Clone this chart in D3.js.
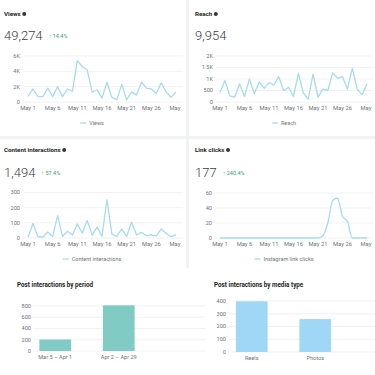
<!DOCTYPE html>
<html>
<head>
<meta charset="utf-8">
<script src="https://cdn.jsdelivr.net/npm/d3@7"></script>
<style>
  html, body { margin: 0; padding: 0; background: #fff; }
  svg { display: block; font-family: Roboto, "Noto Sans", sans-serif; }
</style>
</head>
<body>
<div id="chart"></div>
<script>
// day categories (May 1 .. May 31)
const days = [1, 2, 3, 4, 5, 6, 7, 8, 9, 10, 11, 12, 13, 14, 15, 16, 17, 18, 19, 20,
  21, 22, 23, 24, 25, 26, 27, 28, 29, 30, 31]
const dayTicks = [1, 6, 11, 16, 21, 26, 31]
const dayTickLabels = ['May 1', 'May 6', 'May 11', 'May 16', 'May 21', 'May 26', 'May']

const viewsValues = [740, 1700, 700, 700, 1800, 700, 2000, 700, 1700, 1400,
  5400, 4600, 4200, 1300, 1600, 500, 2600, 600, 300, 2300,
  300, 1300, 900, 2600, 1800, 1700, 1100, 2500, 1300, 600, 1300]
const reachValues = [410, 930, 270, 210, 790, 240, 990, 360, 870, 600,
  840, 740, 1100, 500, 640, 240, 1240, 390, 130, 1210,
  210, 560, 500, 1270, 1030, 1100, 560, 1460, 560, 310, 790]
const interactionValues = [5, 95, 10, 5, 40, 10, 148, 10, 45, 20,
  92, 32, 115, 20, 72, 10, 252, 25, 10, 60,
  10, 105, 20, 37, 15, 20, 12, 60, 30, 8, 22]
const linkClickValues = [0, 0, 0, 0, 0, 0, 0, 0, 0, 0,
  0, 0, 0, 0, 0, 0, 0, 0, 0, 0,
  0, 3, 20, 50, 53, 29, 22, 0, 0, 0, 0]

const periodCategories = ['Mar 5 – Apr 1', 'Apr 2 – Apr 29']
const periodValues = [205, 812]
const mediaCategories = ['Reels', 'Photos']
const mediaValues = [398, 258]

const lineColor = '#a6dbf1'
const gridColor = '#ededed'
const tickColor = '#6f7378'

const svg = d3
  .select('#chart')
  .append('svg')
  .attr('width', 375)
  .attr('height', 375)

// card backgrounds
svg.append('rect').attr('width', 375).attr('height', 268).attr('fill', '#f1f2f4')
const cards = [
  { x: 0, y: 0, w: 186, h: 136 },
  { x: 189, y: 0, w: 186, h: 136 },
  { x: 0, y: 139, w: 186, h: 129 },
  { x: 189, y: 139, w: 186, h: 129 },
]
cards.forEach((c) => {
  svg
    .append('rect')
    .attr('x', c.x)
    .attr('y', c.y)
    .attr('width', c.w)
    .attr('height', c.h)
    .attr('fill', '#fff')
})

function lineCard(opts) {
  const g = svg.append('g')

  const title = g
    .append('text')
    .attr('x', opts.tx)
    .attr('y', opts.ty)
    .attr('font-size', 6.2)
    .attr('font-weight', 700)
    .attr('fill', '#1c1e21')
    .text(opts.title)
  const tw = title.node().getComputedTextLength()
  g.append('circle')
    .attr('cx', opts.tx + tw + 3.5)
    .attr('cy', opts.ty - 2.1)
    .attr('r', 2)
    .attr('fill', '#33363a')

  const big = g
    .append('text')
    .attr('x', opts.tx)
    .attr('y', opts.by)
    .attr('font-size', 13)
    .attr('font-weight', 300)
    .attr('fill', '#3a3d42')
    .text(opts.total)
  if (opts.delta) {
    const bw = big.node().getComputedTextLength()
    g.append('text')
      .attr('x', opts.tx + bw + 6)
      .attr('y', opts.by - 2)
      .attr('font-size', 5.5)
      .attr('fill', '#3b9b6f')
      .text('↑ ' + opts.delta)
  }

  const x = d3.scaleLinear().domain([1, 31]).range(opts.xr)
  const y = d3.scaleLinear().domain([0, opts.ymax]).range(opts.yr)

  // grid + y labels
  opts.yTicks.forEach((t, i) => {
    g.append('line')
      .attr('x1', opts.gx[0])
      .attr('x2', opts.gx[1])
      .attr('y1', y(t))
      .attr('y2', y(t))
      .attr('stroke', gridColor)
      .attr('stroke-width', 0.7)
    g.append('text')
      .attr('x', opts.lx)
      .attr('y', y(t))
      .attr('dy', '0.35em')
      .attr('text-anchor', 'end')
      .attr('font-size', 5.6)
      .attr('fill', tickColor)
      .text(opts.yLabels[i])
  })

  // x labels
  dayTicks.forEach((d, i) => {
    g.append('text')
      .attr('x', x(d) + (i === dayTicks.length - 1 ? -1 : 0))
      .attr('y', opts.yr[0] + 7.5)
      .attr('text-anchor', 'middle')
      .attr('font-size', 5.8)
      .attr('fill', tickColor)
      .text(dayTickLabels[i])
  })

  const line = d3
    .line()
    .x((d, i) => x(days[i]))
    .y((d) => y(d))
    .curve(opts.curve || d3.curveLinear)

  g.append('path')
    .datum(opts.values)
    .attr('d', line)
    .attr('fill', 'none')
    .attr('stroke', lineColor)
    .attr('stroke-width', 1.3)
    .attr('stroke-linejoin', 'round')

  // legend
  const lg = g.append('g')
  lg.append('line')
    .attr('x1', 0)
    .attr('x2', 6)
    .attr('y1', 0)
    .attr('y2', 0)
    .attr('stroke', lineColor)
    .attr('stroke-width', 1.3)
  const lt = lg
    .append('text')
    .attr('x', 9)
    .attr('y', 0)
    .attr('dy', '0.35em')
    .attr('font-size', 5.5)
    .attr('fill', tickColor)
    .text(opts.legend)
  const lw = 9 + lt.node().getComputedTextLength()
  lg.attr('transform', `translate(${opts.lcx - lw / 2},${opts.ly})`)
}

lineCard({
  title: 'Views', total: '49,274', delta: '14.4%',
  tx: 4, ty: 16, by: 40,
  values: viewsValues, ymax: 6000,
  yTicks: [0, 2000, 4000, 6000], yLabels: ['0', '2K', '4K', '6K'],
  xr: [28, 176], yr: [102, 56], gx: [24, 183], lx: 20,
  legend: 'Views', lcx: 92, ly: 123,
})
lineCard({
  title: 'Reach', total: '9,954',
  tx: 195, ty: 16, by: 40,
  values: reachValues, ymax: 2000,
  yTicks: [0, 500, 1000, 1500, 2000], yLabels: ['0', '500', '1K', '1.5K', '2K'],
  xr: [220, 367], yr: [102, 56], gx: [216, 373], lx: 213,
  legend: 'Reach', lcx: 284, ly: 123,
})
lineCard({
  title: 'Content interactions', total: '1,494', delta: '57.4%',
  tx: 4, ty: 152, by: 177,
  values: interactionValues, ymax: 300,
  yTicks: [0, 100, 200, 300], yLabels: ['0', '100', '200', '300'],
  xr: [28, 176], yr: [238, 192.5], gx: [24, 183], lx: 20,
  legend: 'Content interactions', lcx: 92, ly: 259,
})
lineCard({
  title: 'Link clicks', total: '177', delta: '240.4%',
  tx: 195, ty: 152, by: 177,
  values: linkClickValues, ymax: 60,
  yTicks: [0, 20, 40, 60], yLabels: ['0', '20', '40', '60'],
  xr: [220, 367], yr: [238, 193], gx: [216, 373], lx: 212,
  legend: 'Instagram link clicks', lcx: 284, ly: 259,
  curve: d3.curveMonotoneX,
})

function barChart(opts) {
  const g = svg.append('g')
  g.append('text')
    .attr('x', opts.tx)
    .attr('y', 287)
    .attr('font-size', 6.3)
    .attr('font-weight', 700)
    .attr('fill', '#1c1e21')
    .text(opts.title)

  const x = d3
    .scaleBand()
    .domain(opts.categories)
    .range(opts.xr)
    .paddingInner(0.5)
    .paddingOuter(0.25)
  const y = d3.scaleLinear().domain([0, opts.ymax]).range(opts.yr)

  opts.yTicks.forEach((t) => {
    g.append('line')
      .attr('x1', opts.gx[0])
      .attr('x2', opts.gx[1])
      .attr('y1', y(t))
      .attr('y2', y(t))
      .attr('stroke', gridColor)
      .attr('stroke-width', 0.7)
    g.append('text')
      .attr('x', opts.lx)
      .attr('y', y(t))
      .attr('dy', '0.35em')
      .attr('text-anchor', 'end')
      .attr('font-size', 5.6)
      .attr('fill', tickColor)
      .text(t)
  })

  g.selectAll('rect.bar')
    .data(opts.values)
    .join('rect')
    .attr('class', 'bar')
    .attr('x', (d, i) => x(opts.categories[i]))
    .attr('y', (d) => y(d))
    .attr('width', x.bandwidth())
    .attr('height', (d) => y(0) - y(d))
    .attr('fill', opts.color)

  opts.categories.forEach((c) => {
    g.append('text')
      .attr('x', x(c) + x.bandwidth() / 2)
      .attr('y', opts.yr[0] + 7.5)
      .attr('text-anchor', 'middle')
      .attr('font-size', 5.6)
      .attr('fill', tickColor)
      .text(c)
  })
}

barChart({
  title: 'Post interactions by period', tx: 17,
  categories: periodCategories, values: periodValues, ymax: 800,
  yTicks: [0, 200, 400, 600, 800],
  xr: [23.5, 150.5], yr: [351, 306], gx: [33, 206], lx: 31,
  color: '#80cbc3',
})
barChart({
  title: 'Post interactions by media type', tx: 214,
  categories: mediaCategories, values: mediaValues, ymax: 400,
  yTicks: [0, 100, 200, 300, 400],
  xr: [220, 347], yr: [352, 301], gx: [229, 375], lx: 226,
  color: '#a0d7f6',
})
</script>
</body>
</html>
